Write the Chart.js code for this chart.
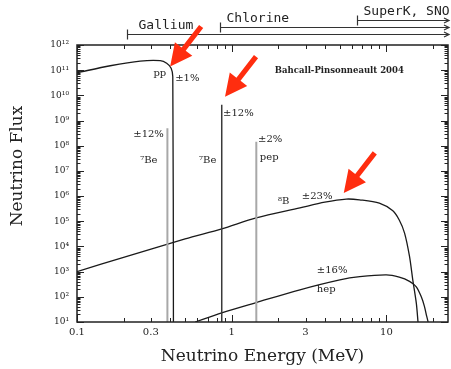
<!DOCTYPE html>
<html>
<head>
<meta charset="utf-8">
<script src="https://cdn.jsdelivr.net/npm/chart.js@4.4.1/dist/chart.umd.min.js"></script>
<style>
  html, body { margin: 0; padding: 0; background: #fff; }
  canvas { display: block; }
</style>
</head>
<body>
<canvas id="chart" width="451" height="369"></canvas>
<script>
// Solar neutrino spectra (energy in MeV, flux)
const ppEnergy = [0.1, 0.164, 0.256, 0.345, 0.38, 0.406, 0.416, 0.42]
const ppFlux = [7.9e10, 1.5e11, 2.3e11, 2.4e11, 1.9e11, 1.2e11, 5.5e10, 10]

const b8Energy = [0.1, 0.2, 0.5, 0.862, 1.44, 2.76, 4, 5.5, 6.7, 9.0, 11.0, 12.1, 13.1, 14.1, 14.8, 15.6, 16.0]
const b8Flux = [1.0e3, 3.7e3, 2.0e4, 5.0e4, 1.35e5, 3.4e5, 5.75e5, 7.6e5, 7.1e5, 5.25e5, 2.6e5, 1.12e5, 3.4e4, 4.0e3, 470, 56, 10]

const hepEnergy = [0.58, 0.862, 1.44, 2.76, 5.0, 6.73, 10.0, 12.1, 14.1, 15.6, 16.8, 17.6, 18.2, 18.6]
const hepFlux = [10, 23, 59, 190, 470, 630, 740, 600, 410, 250, 100, 42, 17, 10]

// line sources: 7Be (0.384), 7Be (0.862), pep
const lineEnergy = [0.384, 0.862, 1.442]
const lineFlux = [4.9e8, 4.2e9, 1.45e8]

// axis ticks
const xLabelValues = [0.1, 0.3, 1, 3, 10]
const xLabelText = ['0.1', '0.3', '1', '3', '10']
const xMinorValues = [0.2, 0.3, 0.4, 0.5, 0.6, 0.7, 0.8, 0.9, 2, 3, 4, 5, 6, 7, 8, 9, 20]
const xMajorValues = [0.1, 1, 10]
const yLabelValues = [1e1, 1e2, 1e3, 1e4, 1e5, 1e6, 1e7, 1e8, 1e9, 1e10, 1e11, 1e12]
const yLabelText = ['10¹', '10²', '10³', '10⁴', '10⁵', '10⁶', '10⁷', '10⁸', '10⁹', '10¹⁰', '10¹¹', '10¹²']

// detector thresholds shown above the plot
const detectorNames = ['Gallium', 'Chlorine', 'SuperK, SNO']
const detectorThreshold = [0.211, 0.84, 6.43]

// annotations inside the plot
const noteText = ['pp', '±1%', 'Bahcall-Pinsonneault 2004', '±12%', '±12%', '⁷Be', '⁷Be', '±2%', 'pep', '⁸B', '±23%', '±16%', 'hep']
const noteEnergy = [0.312, 0.431, 1.90, 0.879, 0.231, 0.256, 0.615, 1.48, 1.52, 1.99, 2.84, 3.55, 3.55]
const noteFlux = [7.7e10, 4.7e10, 9.3e10, 1.9e9, 2.9e8, 2.5e7, 2.5e7, 1.86e8, 3.3e7, 6.4e5, 9.3e5, 1.08e3, 190]

// red arrows: where they point
const arrowEnergy = [0.4, 0.905, 5.3]
const arrowFlux = [1.4e11, 8.9e9, 1.34e6]

const toPoints = (xs, ys) => xs.map((v, i) => ({ x: v, y: ys[i] }))
const serif = 'DejaVu Serif'

function drawArrow(ctx, tx, ty) {
  const dx = -31, dy = 40 // tail -> tip
  const len = Math.hypot(dx, dy)
  const ux = dx / len, uy = dy / len
  const px = -uy, py = ux
  const sx = tx - ux * len, sy = ty - uy * len
  const hx = tx - ux * 22, hy = ty - uy * 22
  ctx.beginPath()
  ctx.moveTo(sx + px * 2.6, sy + py * 2.6)
  ctx.lineTo(hx + px * 2.6, hy + py * 2.6)
  ctx.lineTo(hx + px * 11, hy + py * 11)
  ctx.lineTo(tx, ty)
  ctx.lineTo(hx - px * 11, hy - py * 11)
  ctx.lineTo(hx - px * 2.6, hy - py * 2.6)
  ctx.lineTo(sx - px * 2.6, sy - py * 2.6)
  ctx.closePath()
  ctx.fill()
}

const decorations = {
  id: 'decorations',
  afterDraw(chart) {
    const { ctx, chartArea: a, scales: { x, y } } = chart
    ctx.save()

    // frame
    ctx.strokeStyle = '#222'
    ctx.lineWidth = 1.5
    ctx.strokeRect(a.left, a.top, a.right - a.left, a.bottom - a.top)

    // inner ticks on all four sides
    ctx.lineWidth = 1
    ctx.beginPath()
    const xTick = (v, len) => {
      const p = Math.round(x.getPixelForValue(v)) + 0.5
      ctx.moveTo(p, a.bottom); ctx.lineTo(p, a.bottom - len)
      ctx.moveTo(p, a.top); ctx.lineTo(p, a.top + len)
    }
    xMajorValues.forEach(v => xTick(v, 7))
    xMinorValues.forEach(v => xTick(v, 4))
    yLabelValues.forEach(dec => {
      for (let m = 1; m < 10; m++) {
        const v = dec * m
        if (v > 1e12) break
        const p = Math.round(y.getPixelForValue(v)) + 0.5
        const len = m === 1 ? 7 : 3.5
        ctx.moveTo(a.left, p); ctx.lineTo(a.left + len, p)
        ctx.moveTo(a.right, p); ctx.lineTo(a.right - len, p)
      }
    })
    ctx.stroke()

    // y axis title
    ctx.fillStyle = '#222'
    ctx.font = `17px "${serif}"`
    ctx.textAlign = 'center'
    ctx.textBaseline = 'middle'
    ctx.save()
    ctx.translate(18, 166)
    ctx.rotate(-Math.PI / 2)
    ctx.fillText('Neutrino Flux', 0, 0)
    ctx.restore()

    // annotations
    ctx.textAlign = 'left'
    noteText.forEach((t, i) => {
      ctx.font = i === 2 ? `bold 8.5px "${serif}"` : `10px "${serif}"`
      ctx.fillText(t, x.getPixelForValue(noteEnergy[i]), y.getPixelForValue(noteFlux[i]))
    })

    // detector ranges above the plot
    ctx.strokeStyle = '#333'
    ctx.lineWidth = 1.2
    ctx.font = `13px "DejaVu Sans Mono"`
    detectorNames.forEach((name, i) => {
      const x0 = Math.round(x.getPixelForValue(detectorThreshold[i])) + 0.5
      const yy = 34 - 7 * i + 0.5
      const xe = a.right + 1
      ctx.beginPath()
      ctx.moveTo(x0, yy - 5); ctx.lineTo(x0, yy + 5)
      ctx.moveTo(x0, yy); ctx.lineTo(xe, yy)
      ctx.moveTo(xe - 5, yy - 2.5); ctx.lineTo(xe, yy); ctx.lineTo(xe - 5, yy + 2.5)
      ctx.stroke()
      ctx.fillStyle = '#222'
      ctx.fillText(name, x0 + (i === 0 ? 11 : 6), yy - 9)
    })

    // red arrows
    ctx.fillStyle = '#ff2d0f'
    arrowEnergy.forEach((e, i) => drawArrow(ctx, x.getPixelForValue(e), y.getPixelForValue(arrowFlux[i])))

    ctx.restore()
  }
}

const curveStyle = { borderColor: '#1a1a1a', borderWidth: 1.3, pointRadius: 0, tension: 0.3, fill: false }
const lineColors = ['#a8a8a8', '#3a3a3a', '#a8a8a8']
const lineWidths = [2, 1.5, 2]

const datasets = lineEnergy.map((e, i) => ({
  data: [{ x: e, y: lineFlux[i] }, { x: e, y: 10 }],
  borderColor: lineColors[i], borderWidth: lineWidths[i], pointRadius: 0, fill: false
}))
datasets.push({ ...curveStyle, data: toPoints(ppEnergy, ppFlux) })
datasets.push({ ...curveStyle, data: toPoints(b8Energy, b8Flux) })
datasets.push({ ...curveStyle, data: toPoints(hepEnergy, hepFlux) })

const ctx = document.getElementById('chart')
new Chart(ctx, {
  type: 'line',
  data: { datasets },
  options: {
    responsive: false,
    animation: false,
    layout: { padding: { top: 45, right: 3, left: 0, bottom: 0 } },
    plugins: { legend: { display: false }, tooltip: { enabled: false } },
    scales: {
      x: {
        type: 'logarithmic', min: 0.1, max: 25,
        afterBuildTicks: s => { s.ticks = xLabelValues.map(v => ({ value: v })) },
        afterFit: s => { s.height = 47 },
        ticks: {
          callback: (v, i) => xLabelText[i],
          font: { family: serif, size: 10 }, color: '#222',
          padding: 4, maxRotation: 0, autoSkip: false
        },
        grid: { display: false, drawTicks: false },
        border: { display: false },
        title: {
          display: true, text: 'Neutrino Energy (MeV)',
          font: { family: serif, size: 17 }, color: '#222',
          padding: { top: 0, bottom: 2 }
        }
      },
      y: {
        type: 'logarithmic', min: 10, max: 1e12,
        afterBuildTicks: s => { s.ticks = yLabelValues.map(v => ({ value: v })) },
        afterFit: s => { s.width = 77 },
        ticks: {
          callback: (v, i) => yLabelText[i],
          font: { family: serif, size: 9 }, color: '#222',
          padding: 8, autoSkip: false
        },
        grid: { display: false, drawTicks: false },
        border: { display: false }
      }
    }
  },
  plugins: [decorations]
})
</script>
</body>
</html>
